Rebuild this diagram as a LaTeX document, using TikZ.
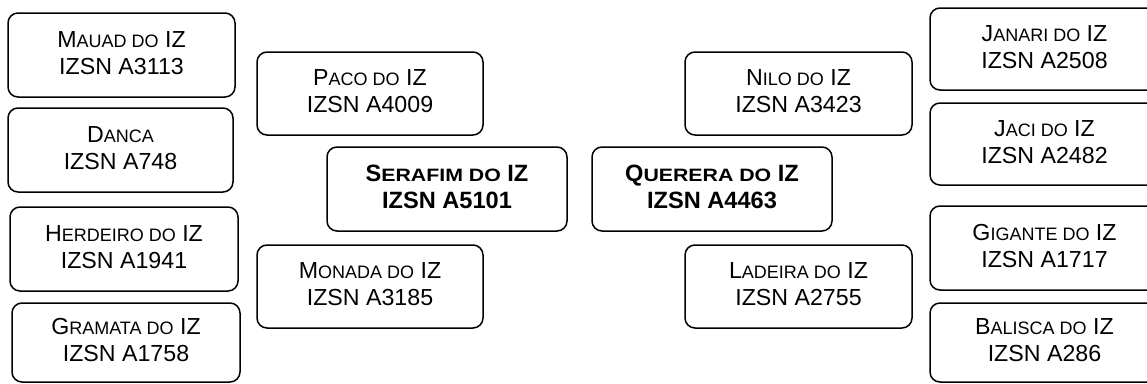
\documentclass[tikz,border=0pt]{standalone}
\usepackage{graphicx}
\usepackage{fontspec}
\setmainfont{Liberation Sans}
\newcommand\smc[1]{{\fontsize{18}{27}\selectfont #1}}
\newcommand\smcb[1]{\scalebox{1.19}[1]{\fontsize{17.9}{27}\selectfont #1}}
\newcommand\lowstrut{\rule[-4.6pt]{0pt}{0pt}}
\begin{document}
\begin{tikzpicture}[x=1pt,y=-1pt,
  box/.style={draw=black, line width=1.5pt, rounded corners=10pt, inner sep=0pt,
    align=center, font=\fontsize{23.2}{27}\selectfont, text=black},
  bx/.style={box, minimum width=228pt, minimum height=84pt},
  bxh/.style={box, minimum width=226pt, minimum height=83pt},
  bxc/.style={box, minimum width=240pt, minimum height=84pt, font=\fontsize{23.6}{27.3}\selectfont\bfseries}]
\useasboundingbox (0,0) rectangle (1147,383);
\clip (0,0) rectangle (1147,383);
% left column
\node[bx, minimum width=227pt] (mauad) at (121.5,55) {M\smc{AUAD DO} IZ\\IZSN A3113\lowstrut};
\node[bx, minimum width=225pt] (danca) at (120.5,150) {D\smc{ANCA}\\IZSN A748\lowstrut};
\node[bx] (herdeiro) at (124,249) {H\smc{ERDEIRO DO} IZ\\IZSN A1941\lowstrut};
\node[bx, minimum height=79pt] (gramata) at (126,342.5) {G\smc{RAMATA DO} IZ\\IZSN A1758\lowstrut};
% second column
\node[bxh] (paco) at (370,93.5) {P\smc{ACO DO} IZ\\IZSN A4009\lowstrut};
\node[bxh] (monada) at (370,286.5) {M\smc{ONADA DO} IZ\\IZSN A3185\lowstrut};
% centre
\node[bxc] (serafim) at (447,189) {S\smcb{ERAFIM DO} IZ\\IZSN A5101\lowstrut};
\node[bxc] (querera) at (712,189) {Q\smcb{UERERA DO} IZ\\IZSN A4463\lowstrut};
% fourth column
\node[bxh, minimum width=227pt] (nilo) at (798.5,93.5) {N\smc{ILO DO} IZ\\IZSN A3423\lowstrut};
\node[bxh, minimum width=227pt] (ladeira) at (798.5,286.5) {L\smc{ADEIRA DO} IZ\\IZSN A2755\lowstrut};
% right column
\node[bx, minimum width=229pt, minimum height=82pt] (janari) at (1044.5,49) {J\smc{ANARI DO} IZ\\IZSN A2508\lowstrut};
\node[bx, minimum width=229pt, minimum height=82pt] (jaci) at (1044.5,144) {J\smc{ACI DO} IZ\\IZSN A2482\lowstrut};
\node[bx, minimum width=229pt] (gigante) at (1044.5,248) {G\smc{IGANTE DO} IZ\\IZSN A1717\lowstrut};
\node[bx, minimum width=229pt, minimum height=79pt] (balisca) at (1044.5,342.5) {B\smc{ALISCA DO} IZ\\IZSN A286\lowstrut};
\end{tikzpicture}
\end{document}
